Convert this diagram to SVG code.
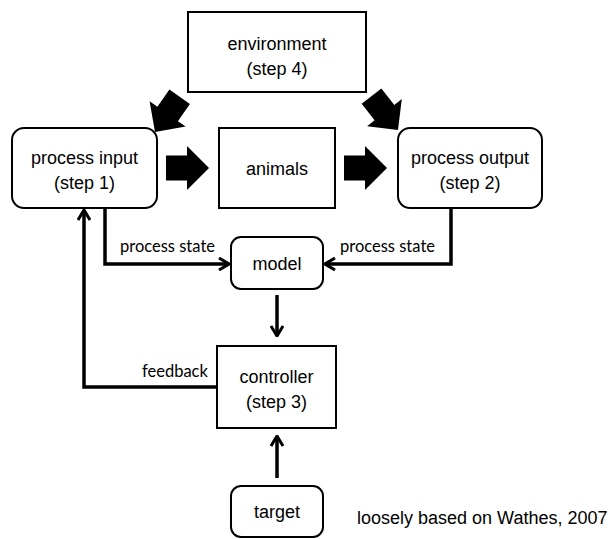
<svg xmlns="http://www.w3.org/2000/svg" width="610" height="539" viewBox="0 0 610 539">
<defs>
<style>
.box{fill:#fff;stroke:#000;stroke-width:2}
.t{font-family:"Liberation Sans",Arial,sans-serif;font-size:18px;fill:#000;text-anchor:middle}
.lbl{font-family:Lato,"Open Sans",sans-serif;font-size:16.5px;fill:#000}
.c{fill:none;stroke:#000;stroke-width:3.5}
.big{fill:#000}
</style>
<marker id="ah" viewBox="0 0 12 14" refX="11" refY="7" markerWidth="12" markerHeight="14" markerUnits="userSpaceOnUse" orient="auto">
<path d="M1,1 L11,7 L1,13" fill="none" stroke="#000" stroke-width="3"/>
</marker>
<path id="blk" d="M-43,-12.5 L-22,-12.5 L-22,-22 L0,0 L-22,22 L-22,12.5 L-43,12.5 Z"/>
</defs>
<rect width="610" height="539" fill="#fff"/>

<g id="environment">
<rect class="box" x="188" y="12" width="178" height="80"/>
<text class="t" x="277" y="50">environment</text>
<text class="t" x="277" y="75">(step 4)</text>
</g>
<g id="process-input">
<rect class="box" x="12" y="128" width="145" height="80" rx="12"/>
<text class="t" x="84.5" y="164">process input</text>
<text class="t" x="84.5" y="189">(step 1)</text>
</g>
<g id="animals">
<rect class="box" x="219" y="128" width="116" height="80"/>
<text class="t" x="277" y="175">animals</text>
</g>
<g id="process-output">
<rect class="box" x="398" y="128" width="144" height="80" rx="12"/>
<text class="t" x="470" y="164">process output</text>
<text class="t" x="470" y="189">(step 2)</text>
</g>
<g id="model">
<rect class="box" x="231" y="237" width="92" height="52" rx="10"/>
<text class="t" x="277" y="270">model</text>
</g>
<g id="controller">
<rect class="box" x="217" y="346" width="119" height="82"/>
<text class="t" x="276.5" y="383">controller</text>
<text class="t" x="276.5" y="408">(step 3)</text>
</g>
<g id="target">
<rect class="box" x="231" y="486" width="92" height="51" rx="10"/>
<text class="t" x="277" y="518">target</text>
</g>

<g id="connectors">
<use href="#blk" class="big" transform="translate(209,168)"/>
<use href="#blk" class="big" transform="translate(387,168)"/>
<use href="#blk" class="big" transform="translate(155,132) rotate(125)"/>
<use href="#blk" class="big" transform="translate(398,130) rotate(52)"/>
<path class="c" d="M105,208 V264 H229" marker-end="url(#ah)"/>
<path class="c" d="M451,208 V264 H325" marker-end="url(#ah)"/>
<path class="c" d="M277,295 V336" marker-end="url(#ah)"/>
<path class="c" d="M217,387 H84 V210" marker-end="url(#ah)"/>
<path class="c" d="M277,478 V436" marker-end="url(#ah)"/>
<text class="lbl" x="120" y="252">process state</text>
<text class="lbl" x="340" y="252">process state</text>
<text class="lbl" x="142" y="377">feedback</text>
</g>

<text class="t" x="357" y="524" style="text-anchor:start">loosely based on Wathes, 2007</text>
</svg>
